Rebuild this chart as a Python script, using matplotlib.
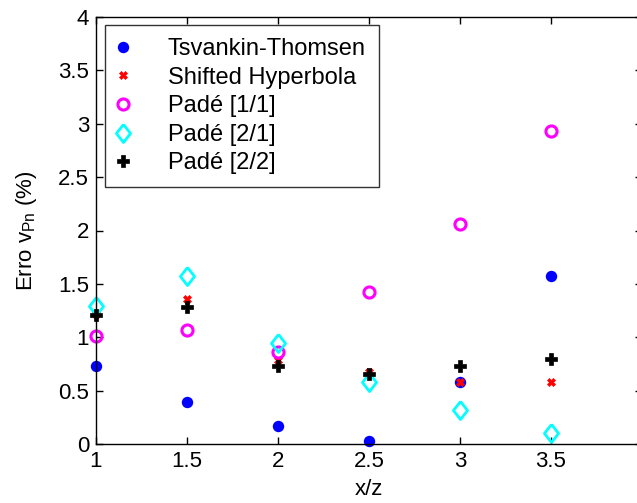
import numpy as np
import matplotlib
matplotlib.use("Agg")
import matplotlib.pyplot as plt

plt.rcParams['font.family'] = ['Liberation Sans', 'DejaVu Sans']

xz = [1.0, 1.5, 2.0, 2.5, 3.0, 3.5]
tsvankin = [0.73, 0.39, 0.17, 0.03, 0.58, 1.57]
shifted = [1.22, 1.36, 0.79, 0.67, 0.58, 0.58]
pade11 = [1.01, 1.07, 0.865, 1.42, 2.06, 2.93]
pade21 = [1.29, 1.57, 0.95, 0.58, 0.32, 0.105]
pade22 = [1.21, 1.28, 0.73, 0.656, 0.73, 0.80]

# squat diamond like the matlab one
diamond = [(0, 1), (0.78, 0), (0, -1), (-0.78, 0), (0, 1)]

fig = plt.figure(figsize=(6.37, 5.03), dpi=100)
ax = fig.add_axes([96/637, 59/503, 546/637, 427/503])

ax.plot(xz, tsvankin, 'o', color='blue', ms=7, mec='blue', mew=1.2, label='Tsvankin-Thomsen', clip_on=False)
ax.plot(xz, shifted, 'X', color='red', ms=6, mec='red', mew=0.5, label='Shifted Hyperbola', clip_on=False)
ax.plot(xz, pade11, 'o', color='magenta', mfc='none', ms=8, mew=2.2, label='Padé [1/1]', clip_on=False)
ax.plot(xz, pade21, marker=diamond, ls='none', color='cyan', mfc='none', ms=13, mew=2, label='Padé [2/1]', clip_on=False)
ax.plot(xz, pade22, 'P', color='black', ms=9, mew=0.5, label='Padé [2/2]', clip_on=False)

ax.set_xlim(1, 4)
ax.set_ylim(0, 4)
ax.set_xticks([1, 1.5, 2, 2.5, 3, 3.5, 4])
ax.set_xticklabels(['1', '1.5', '2', '2.5', '3', '3.5', ''])
ax.set_yticks(np.arange(0, 4.01, 0.5))
ax.set_yticklabels(['0', '0.5', '1', '1.5', '2', '2.5', '3', '3.5', '4'])
ax.tick_params(direction='in', length=5, width=1, labelsize=16, top=True, right=True, pad=5)
for s in ax.spines.values():
    s.set_linewidth(1)

ax.set_xlabel('x/z', fontsize=16, labelpad=5)
ax.set_ylabel(r'Erro v$_{\mathregular{Pn}}$ (%)', fontsize=16, labelpad=14)

leg = ax.legend(loc='upper left', bbox_to_anchor=(9/546, 1 - 8/427), fontsize=17,
                frameon=True, fancybox=False, edgecolor='black', borderaxespad=0,
                handletextpad=1.7, labelspacing=0.28, borderpad=0.55, handlelength=0.4)
leg.get_frame().set_linewidth(1)

fig.savefig('out.png', dpi=100)
